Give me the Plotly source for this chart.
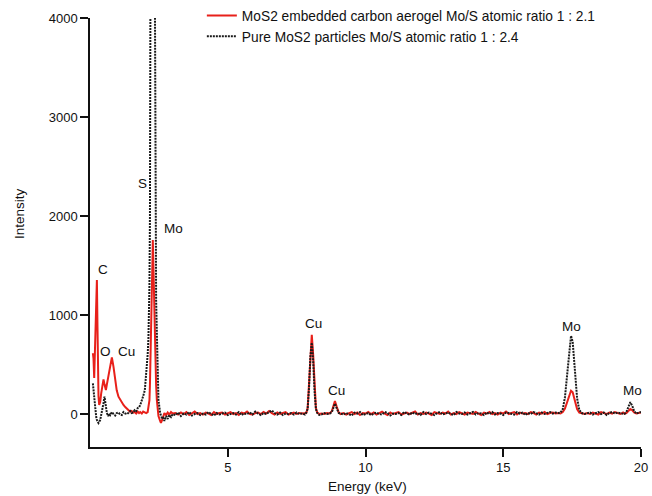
import plotly.graph_objects as go

# ---------------- data ----------------
energy_low = [0.105, 0.127, 0.152, 0.163, 0.18, 0.207, 0.225, 0.25, 0.272, 0.297,
              0.308, 0.334, 0.37, 0.406, 0.443, 0.49, 0.526, 0.577, 0.613, 0.66,
              0.696, 0.733, 0.794, 0.852, 0.914, 0.97, 1.034, 1.095, 1.155, 1.215,
              1.28, 1.35, 1.40, 1.458, 1.51, 1.567, 1.62, 1.676, 1.73, 1.78,
              1.822, 1.88, 1.93, 1.99, 2.04, 2.093, 2.12, 2.158, 2.176, 2.19,
              2.22, 2.27, 2.28, 2.34, 2.358, 2.37, 2.40, 2.427, 2.474, 2.485,
              2.546, 2.575, 2.62, 2.655, 2.70, 2.764, 2.82, 2.88, 2.94, 3.0]
red_low = [616, 560, 364, 500, 720, 950, 1150, 1354, 882, 276,
           180, 91, 120, 209, 300, 350, 300, 242, 300, 380,
           444, 500, 572, 478, 343, 240, 175, 141, 110, 91,
           70, 50, 35, 23, 30, 15, 20, 5, 25, 10,
           20, 5, 25, 12, 10, 20, 60, 141, 300, 450,
           818, 1600, 1758, 818, 600, 480, 290, 141, 0, -20,
           -70, -90, -60, -30, 10, -10, 15, -5, 20, 5]
black_low = [310, 230, 140, 111, 60, 0, -30, -60, -80, -90,
             -91, -80, -60, -10, 30, 110, 175, 60, 10, -20,
             5, -10, 20, 0, -15, 10, 15, -5, -10, 20,
             5, 0, 20, 30, 10, 15, 40, 30, 60, 70,
             90, 130, 180, 240, 380, 600, 760, 1300, 2000, 4100,
             8000, 15000, 15000, 8000, 4100, 2500, 1150, 818, 250, 141,
             10, -20, -50, -40, -70, -20, -50, -10, -30, 0]

energy_mid = [3.1, 3.2, 3.3, 3.4, 3.5, 3.6, 3.7, 3.8, 3.9, 4.0,
              4.1, 4.2, 4.3, 4.4, 4.5, 4.6, 4.7, 4.8, 4.9, 5.0,
              5.1, 5.2, 5.3, 5.4, 5.5, 5.6, 5.7, 5.8, 5.9, 6.0,
              6.1, 6.2, 6.3, 6.4, 6.5, 6.6, 6.7, 6.8, 6.9, 7.0,
              7.1, 7.2, 7.3, 7.4, 7.5, 7.6, 7.7]
red_mid = [10, -5, 15, 0, 20, -10, 5, 25, 0, 10,
           -5, 15, 5, -10, 20, 0, 10, 15, -5, 5,
           20, 0, 10, -10, 15, 5, 25, 0, -5, 10,
           15, 0, 20, 5, 30, 10, -5, 15, 0, 10,
           20, -5, 5, 15, 0, 10, 5]
black_mid = [-10, 15, -20, 5, -5, 20, -15, 0, 10, -10,
             5, -5, 20, 0, -15, 10, -5, 5, 15, -10,
             0, 10, -5, 20, -10, 5, 0, 15, -5, 25,
             5, -10, 10, 0, 20, 35, 10, -5, 15, -10,
             5, 0, 10, -5, 15, 0, 5]

energy_cu = [7.80, 7.85, 7.90, 7.95, 8.00, 8.05, 8.10, 8.15, 8.20, 8.25,
             8.32, 8.40, 8.50, 8.60, 8.70, 8.78, 8.84, 8.89, 8.96, 9.03, 9.10]
red_cu = [5, 10, 60, 300, 650, 800, 600, 260, 60, 15,
          0, 5, 0, 10, 5, 30, 90, 130, 70, 15, 0]
black_cu = [-5, 15, 50, 260, 580, 720, 540, 230, 50, 10,
            -10, -5, 10, 0, 5, 20, 70, 105, 55, 10, 5]

energy_flat = [9.2, 9.3, 9.4, 9.5, 9.6, 9.7, 9.8, 9.9, 10.0, 10.1,
               10.2, 10.3, 10.4, 10.5, 10.6, 10.7, 10.8, 10.9, 11.0, 11.1,
               11.2, 11.3, 11.4, 11.5, 11.6, 11.7, 11.8, 11.9, 12.0, 12.1,
               12.2, 12.3, 12.4, 12.5, 12.6, 12.7, 12.8, 12.9, 13.0, 13.1,
               13.2, 13.3, 13.4, 13.5, 13.6, 13.7, 13.8, 13.9, 14.0, 14.1,
               14.2, 14.3, 14.4, 14.5, 14.6, 14.7, 14.8, 14.9, 15.0, 15.1,
               15.2, 15.3, 15.4, 15.5, 15.6, 15.7, 15.8, 15.9, 16.0, 16.1,
               16.2, 16.3, 16.4, 16.5, 16.6, 16.7, 16.8, 16.9, 17.0]
red_flat = [10, -5, 5, 20, 0, 15, -10, 10, 5, 20,
            0, 15, -5, 10, 25, 5, -10, 15, 0, 10,
            20, -5, 5, 15, 0, 10, 25, -5, 10, 0,
            15, 5, -10, 20, 10, 0, 15, 5, 25, -5,
            10, 0, 20, 5, -5, 15, 10, 0, 20, 5,
            -10, 15, 5, 20, 0, 10, -5, 15, 5, 25,
            0, 10, 20, -5, 15, 5, 10, 0, 20, 10,
            -5, 15, 5, 20, 0, 10, 15, 5, 10]
black_flat = [-5, 10, 0, -15, 15, 5, 20, -10, 0, 10,
              -10, 5, 15, 0, -5, 20, 10, -15, 5, 0,
              10, -10, 20, 5, -5, 15, 0, 10, -10, 20,
              0, 15, 5, -10, 10, 20, -5, 5, 15, 0,
              -10, 20, 5, 0, 15, -5, 10, 20, -5, 10,
              5, -10, 15, 0, 20, -5, 10, 5, -10, 15,
              10, 0, -5, 20, 5, 15, -10, 10, 0, 20,
              5, -5, 15, 0, 10, 20, 5, 15, 10]

energy_mo = [17.08, 17.16, 17.24, 17.32, 17.40, 17.46, 17.52, 17.60, 17.68, 17.76,
             17.85, 17.95, 18.05, 18.15, 18.25, 18.35, 18.45, 18.55, 18.65, 18.75,
             18.85, 18.95, 19.05, 19.15, 19.25, 19.35, 19.40, 19.47, 19.54, 19.61,
             19.68, 19.75, 19.83, 19.92, 20.0]
red_mo = [5, 20, 55, 120, 200, 235, 220, 130, 50, 15,
          5, 0, 10, 0, 15, 5, -5, 20, 10, 0,
          15, 5, 20, 10, 0, 15, 5, 10, 30, 50,
          40, 15, 5, 10, 15]
black_mo = [15, 50, 170, 400, 660, 790, 730, 430, 160, 40,
            10, 0, 5, 15, -5, 10, 20, 0, 15, -10,
            10, 20, 5, 15, 10, 5, 0, 20, 70, 120,
            85, 30, 5, 15, 20]

peak_labels = ["C", "O", "Cu", "S", "Mo", "Cu", "Cu", "Mo", "Mo"]
label_energy = [0.48, 0.55, 1.31, 1.89, 3.02, 8.10, 8.93, 17.48, 19.68]
label_intensity = [1455, 636, 636, 2333, 1879, 919, 239, 882, 235]

series_names = ["MoS2 embedded carbon aerogel Mo/S atomic ratio 1 : 2.1",
                "Pure MoS2 particles Mo/S atomic ratio 1 : 2.4"]

energy = energy_low + energy_mid + energy_cu + energy_flat + energy_mo
red = red_low + red_mid + red_cu + red_flat + red_mo
black = black_low + black_mid + black_cu + black_flat + black_mo
assert len(energy) == len(red) == len(black), (len(energy), len(red), len(black))

FONT = "Liberation Sans, Arial, sans-serif"
INK = "#111111"

fig = go.Figure()
fig.add_trace(go.Scatter(x=energy, y=red, mode="lines", name=series_names[0],
                         line=dict(color="#e8201a", width=2)))
fig.add_trace(go.Scatter(x=energy, y=black, mode="lines", name=series_names[1],
                         line=dict(color="#1a1a1a", width=2, dash="2px,1px")))

for t, xe, yi in zip(peak_labels, label_energy, label_intensity):
    fig.add_annotation(x=xe, y=yi, text=t, showarrow=False,
                       xanchor="center", yanchor="middle",
                       font=dict(family=FONT, size=13.5, color=INK))

fig.add_annotation(text="Intensity", xref="paper", yref="paper",
                   x=-0.129, y=0.545, textangle=-90, showarrow=False,
                   xanchor="center", yanchor="middle",
                   font=dict(family=FONT, size=13.5, color=INK))
fig.add_annotation(text="Energy (keV)", xref="paper", yref="paper",
                   x=0.503, y=-0.091, showarrow=False,
                   xanchor="center", yanchor="middle",
                   font=dict(family=FONT, size=13.5, color=INK))

fig.update_layout(
    width=652, height=496,
    margin=dict(l=90, r=11, t=18, b=49, autoexpand=False),
    paper_bgcolor="white", plot_bgcolor="white",
    font=dict(family=FONT, size=13, color=INK),
    showlegend=True,
    legend=dict(x=0.203, y=1.042, xanchor="left", yanchor="top",
                bgcolor="rgba(0,0,0,0)", font=dict(family=FONT, size=13.75),
                tracegroupgap=0),
    xaxis=dict(range=[0, 20], tickvals=[5, 10, 15, 20], ticks="outside",
               ticklen=8, tickwidth=1.5, tickcolor=INK,
               showline=True, linecolor=INK, linewidth=1.5,
               showgrid=False, zeroline=False, automargin=False),
    yaxis=dict(range=[-333, 4000], tickvals=[0, 1000, 2000, 3000, 4000],
               ticks="outside", ticklen=8, tickwidth=1.5, tickcolor=INK,
               showline=True, linecolor=INK, linewidth=1.5,
               showgrid=False, zeroline=False, automargin=False),
)

fig.write_html("out.html")
